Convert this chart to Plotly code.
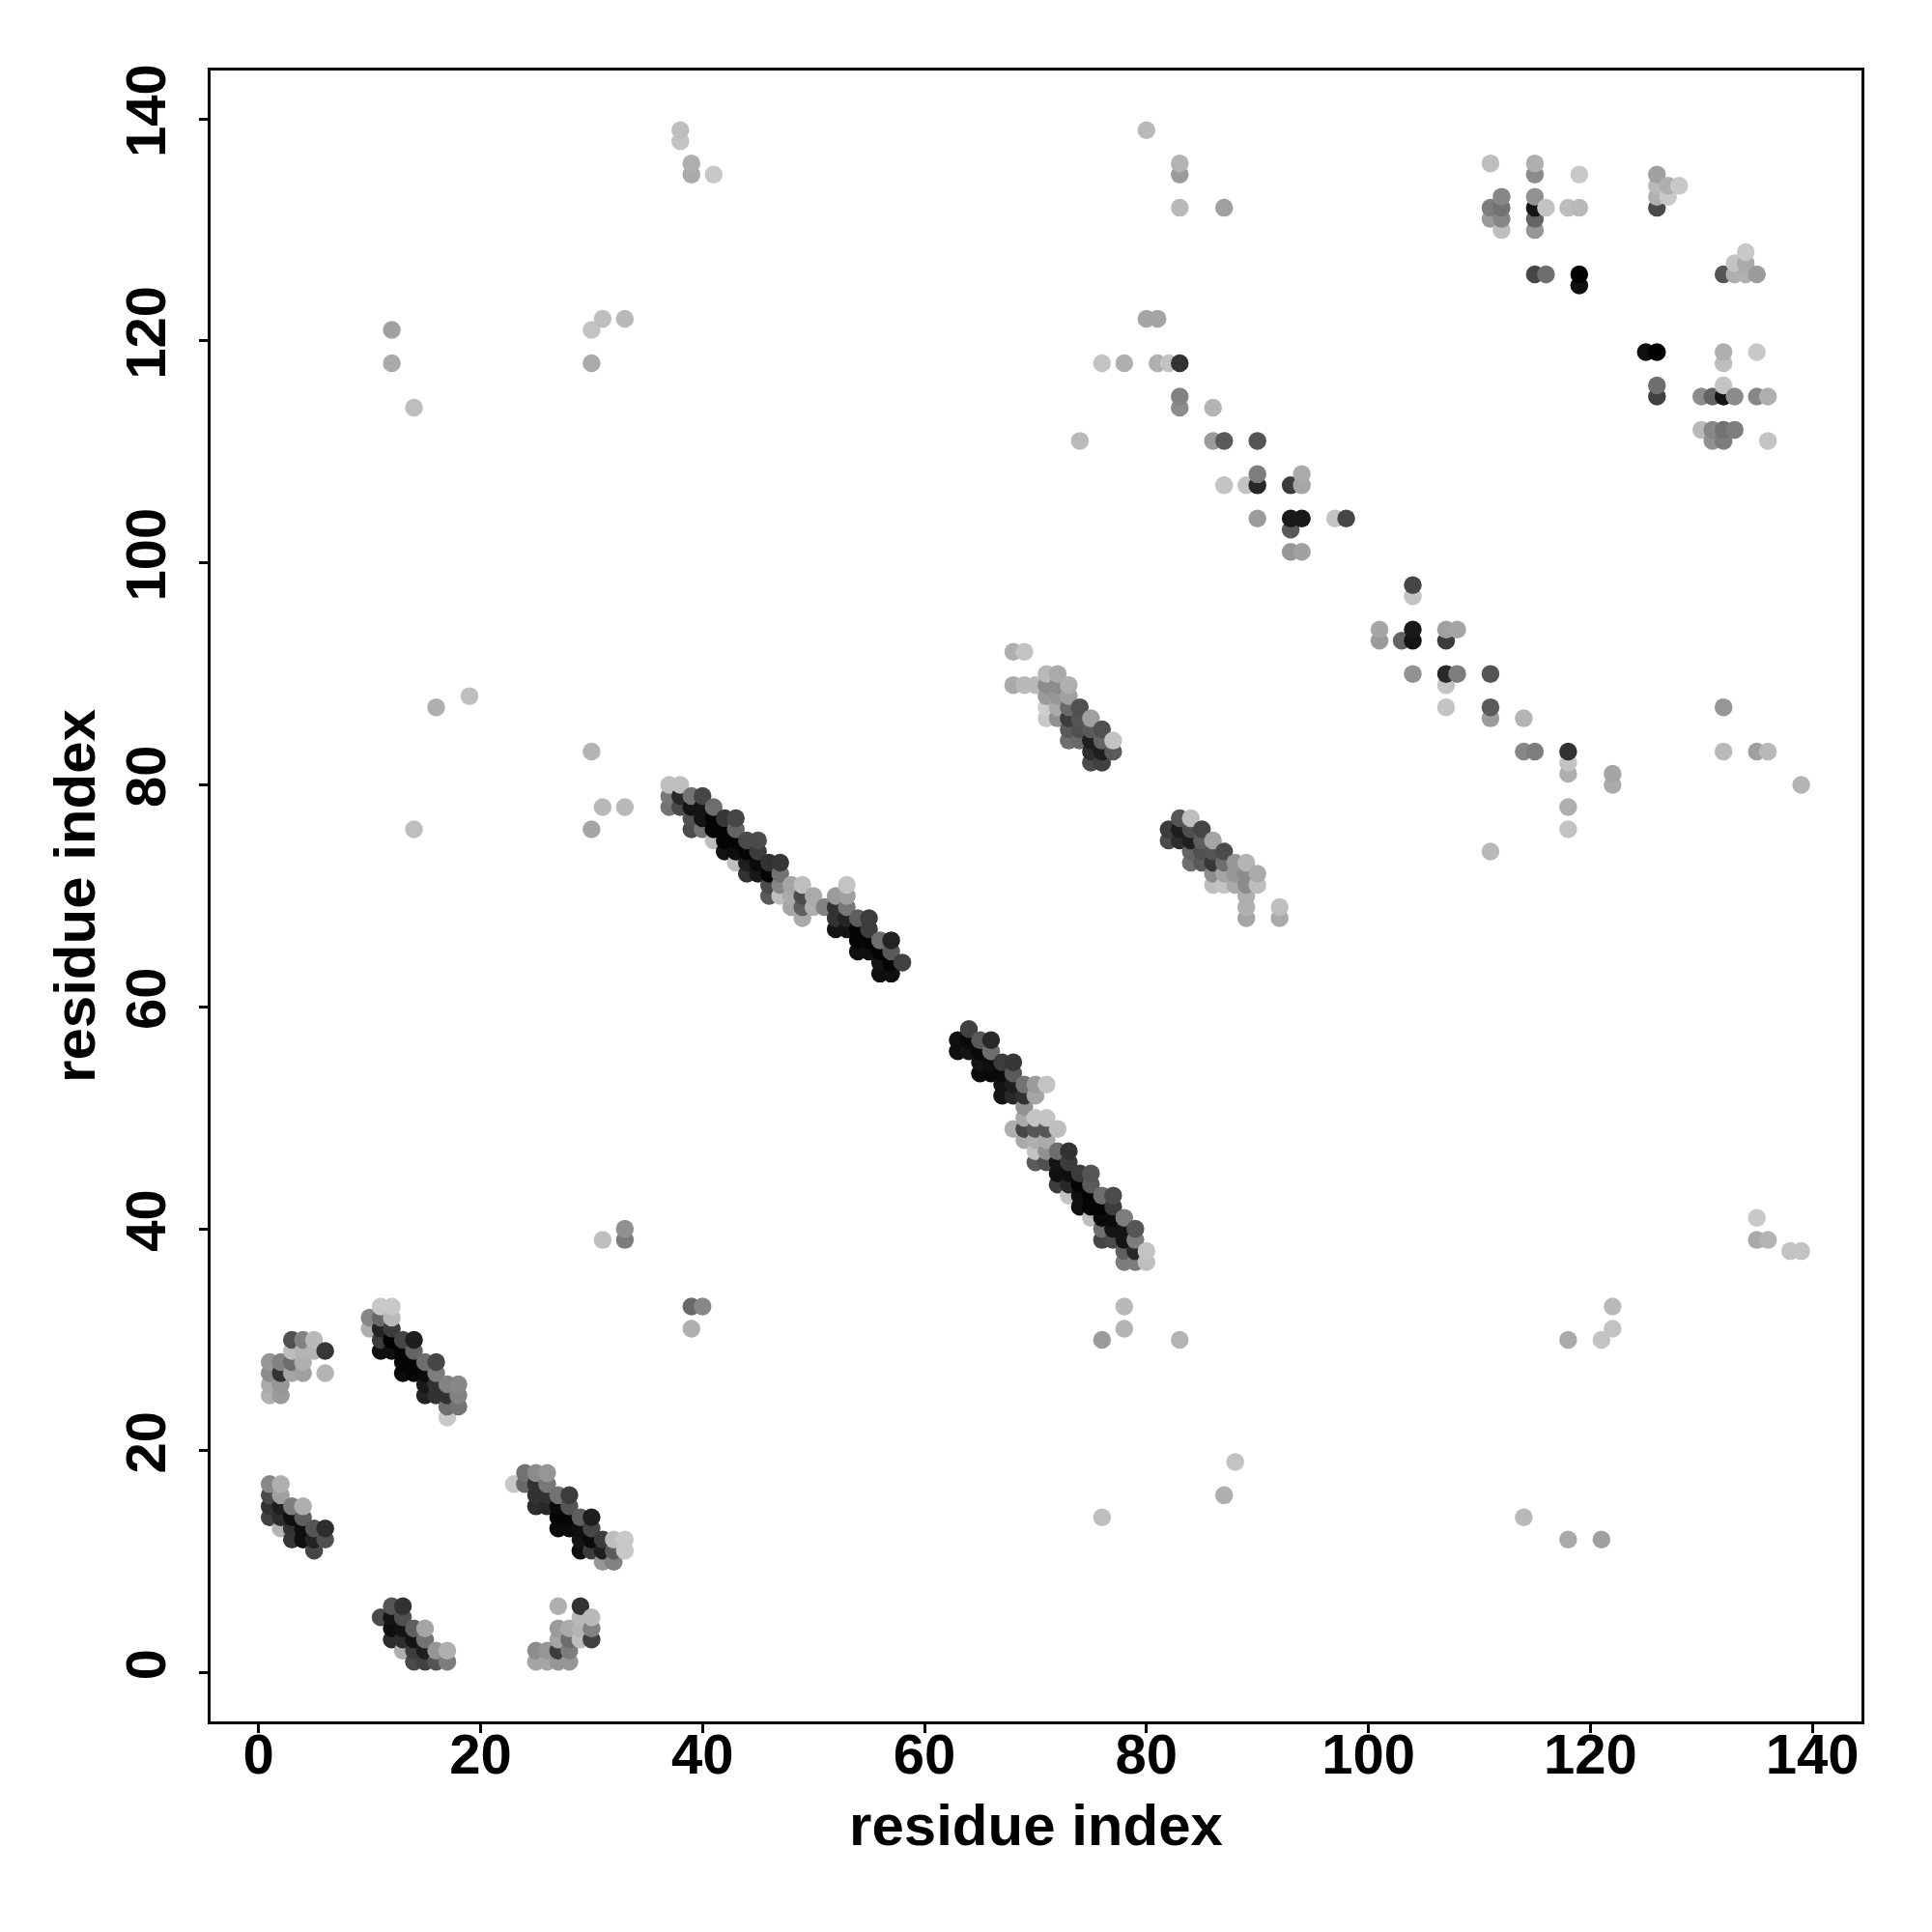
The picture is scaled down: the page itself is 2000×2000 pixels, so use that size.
import plotly.graph_objects as go

# each cluster: (residue i, residue j, grey level)
cluster_a = [(3,30,80),(4,30,130),(5,30,185),(3,29,190),(4,29,180),(5,29,180),(6,29,55),
             (1,28,150),(2,28,130),(3,28,110),(4,28,175),(1,27,140),(2,27,50),(3,27,165),(4,27,160),(6,27,180),
             (1,26,170),(2,26,150),(1,25,175),(2,25,155)]
cluster_b = [(11,33,200),(12,33,200),(10,32,135),(11,32,105),(12,32,185),(10,31,175),(11,31,35),(12,31,60),
             (11,30,60),(12,30,0),(13,30,70),(14,30,30),(11,29,15),(12,29,15),(13,29,5),(14,29,100),
             (13,28,5),(14,28,5),(15,28,110),(16,28,70),(13,27,10),(14,27,5),(15,27,10),(16,27,125),
             (15,26,25),(16,26,50),(17,26,130),(18,26,135),(15,25,35),(16,25,50),(17,25,50),(18,25,130),
             (17,24,110),(18,24,115),(17,23,200)]
cluster_c = [(1,17,135),(2,17,175),(1,16,75),(2,16,160),(1,15,50),(2,15,30),(3,15,125),(4,15,175),
             (1,14,65),(2,14,45),(3,14,15),(4,14,95),(2,13,180),(3,13,50),(4,13,15),(5,13,85),(6,13,45),
             (3,12,55),(4,12,15),(5,12,35),(6,12,80),(5,11,70)]
cluster_d = [(24,18,115),(25,18,140),(26,18,150),(23,17,200),(24,17,105),(25,17,50),(26,17,120),
             (25,16,50),(26,16,50),(27,16,115),(28,16,60),(25,15,45),(26,15,40),(27,15,10),(28,15,85),
             (27,14,5),(28,14,5),(29,14,95),(30,14,30),(27,13,10),(28,13,10),(29,13,15),(30,13,70),
             (29,12,20),(30,12,10),(31,12,60),(32,12,190),(33,12,200),(29,11,15),(30,11,60),(31,11,30),(32,11,90),(33,11,200),
             (31,10,150),(32,10,130)]
cluster_e = [(12,6,85),(13,6,50),(11,5,75),(12,5,20),(13,5,80),(12,4,15),(13,4,20),(14,4,95),(15,4,165),
             (12,3,45),(13,3,45),(14,3,20),(15,3,115),(13,2,175),(14,2,60),(15,2,30),(16,2,150),(17,2,175),
             (14,1,75),(15,1,65),(16,1,85),(17,1,125)]
cluster_f = [(27,6,175),(29,6,50),(29,5,185),(30,5,185),(27,4,155),(28,4,170),(29,4,180),(30,4,130),
             (27,3,165),(28,3,110),(29,3,190),(30,3,65),(25,2,140),(26,2,150),(27,2,60),(28,2,125),
             (25,1,165),(26,1,165),(27,1,150),(28,1,150)]
cluster_g = [(37,80,190),(38,80,190),(37,79,120),(38,79,40),(39,79,115),(40,79,70),(37,78,115),(38,78,75),(39,78,20),(40,78,20),(41,78,110),
             (39,77,80),(40,77,20),(41,77,5),(42,77,55),(43,77,70),(39,76,75),(40,76,115),(41,76,5),(42,76,5),(43,76,100),
             (41,75,190),(42,75,5),(43,75,5),(44,75,75),(45,75,75),(42,74,20),(43,74,15),(44,74,5),(45,74,60),
             (43,73,190),(44,73,30),(45,73,10),(46,73,50),(47,73,55),(44,72,50),(45,72,25),(46,72,5),(47,72,115),
             (46,71,75),(47,71,135),(48,71,165),(49,71,190),(46,70,90),(47,70,190),(48,70,170),(49,70,75),(50,70,170),
             (48,69,165),(49,69,95),(50,69,175),(51,69,130),(49,68,170)]
cluster_h = [(53,71,195),(52,70,155),(53,70,160),(52,69,50),(53,69,120),(52,68,50),(53,68,35),(54,68,95),(55,68,60),
             (52,67,20),(53,67,20),(54,67,5),(55,67,60),(54,66,5),(55,66,5),(56,66,110),(57,66,35),
             (54,65,15),(55,65,15),(56,65,5),(57,65,90),(56,64,20),(57,64,5),(58,64,65),(56,63,15),(57,63,15)]
cluster_i = [(64,58,65),(63,57,15),(64,57,10),(65,57,90),(66,57,40),(63,56,15),(64,56,20),(65,56,10),(66,56,110),
             (65,55,20),(66,55,15),(67,55,60),(68,55,55),(65,54,10),(66,54,10),(67,54,10),(68,54,90),
             (67,53,20),(68,53,30),(69,53,115),(70,53,155),(71,53,195),(67,52,20),(68,52,40),(69,52,50),(70,52,165),
             (69,51,145),(69,50,170),(70,50,195),(71,50,195),(68,49,175),(69,49,70),(70,49,85),(71,49,85),(72,49,190),
             (69,48,170),(70,48,175),(71,48,170),(70,47,195),(71,47,145),(72,47,110),(73,47,50),
             (70,46,90),(71,46,80),(72,46,20),(73,46,60),(72,45,15),(73,45,15),(74,45,60),(75,45,85),
             (72,44,60),(73,44,40),(74,44,5),(75,44,90),(73,43,195),(74,43,15),(75,43,5),(76,43,110),(77,43,75),
             (74,42,15),(75,42,5),(76,42,5),(77,42,60),(75,41,190),(76,41,10),(77,41,10),(78,41,125),
             (76,40,110),(77,40,20),(78,40,20),(79,40,85),(76,39,70),(77,39,75),(78,39,20),(79,39,125),
             (78,38,95),(79,38,40),(80,38,195),(78,37,125),(79,37,125),(80,37,190)]
cluster_j = [(68,92,175),(69,92,195),(71,90,185),(72,90,170),(68,89,170),(69,89,185),(70,89,185),(71,89,140),(72,89,140),(73,89,175),
             (71,88,155),(72,88,150),(73,88,160),(71,87,205),(72,87,170),(73,87,105),(74,87,80),
             (71,86,200),(72,86,145),(73,86,60),(74,86,85),(75,86,160),(73,85,90),(74,85,80),(75,85,90),(76,85,80),
             (73,84,110),(74,84,105),(75,84,30),(76,84,100),(77,84,195),(75,83,45),(76,83,30),(77,83,90),(75,82,75),(76,82,65)]
cluster_k = [(83,77,85),(84,77,190),(82,76,60),(83,76,30),(84,76,80),(85,76,70),(82,75,75),(83,75,45),(84,75,30),(85,75,95),(86,75,165),
             (84,74,100),(85,74,80),(86,74,85),(87,74,75),(84,73,110),(85,73,90),(86,73,55),(87,73,110),(88,73,150),(89,73,180),
             (86,72,140),(87,72,165),(88,72,150),(89,72,140),(90,72,170),(86,71,190),(87,71,195),(88,71,170),(89,71,140),(90,71,190),
             (89,70,175),(89,69,175),(92,69,190),(89,68,165),(92,68,170)]
cluster_top_right = [(111,136,190),(115,136,175),(115,135,140),(119,135,200),(112,133,135),(115,133,145),
             (111,132,125),(112,132,115),(115,132,20),(116,132,195),(118,132,190),(119,132,185),
             (111,131,155),(112,131,135),(115,131,100),(112,130,190),(115,130,150),
             (126,135,160),(126,134,185),(127,134,175),(128,134,200),(126,133,175),(127,133,200),(126,132,75),
             (115,126,70),(116,126,110),(119,126,0),(119,125,15),(132,126,85),(133,126,175),(134,126,175),(135,126,155),
             (133,127,195),(134,127,170),(134,128,200),(125,119,15),(126,119,0),(132,119,175),(135,119,200),(132,118,190),
             (126,116,110),(126,115,65),(130,115,140),(131,115,100),(132,115,20),(133,115,140),(135,115,135),(136,115,175),(132,116,195),
             (130,112,185),(131,112,135),(132,112,115),(133,112,125),(131,111,145),(132,111,125),(136,111,195)]
cluster_mid_upper = [(80,122,165),(81,122,165),(76,118,195),(78,118,175),(81,118,175),(82,118,195),(83,118,50),
             (83,115,130),(83,114,140),(86,114,180),(74,111,185),(86,111,155),(87,111,90),(90,111,85),
             (87,107,195),(89,107,195),(90,108,125),(90,107,40),(93,107,60),(94,108,170),(94,107,165),
             (90,104,155),(93,104,25),(94,104,25),(97,104,195),(98,104,70),(93,103,90),(93,101,150),(94,101,160)]
cluster_mid_lower = [(104,98,70),(104,97,195),(101,94,165),(101,93,155),(103,93,100),(104,94,25),(104,93,20),(107,94,160),(108,94,165),(107,93,60),
             (104,90,145),(107,90,40),(108,90,125),(111,90,85),(107,89,195),(107,87,195),(111,87,90),(111,86,155),(114,86,180),
             (114,83,135),(115,83,125),(118,83,50),(118,82,195),(118,81,175),(122,81,165),(122,80,170),(118,78,175),(118,76,195),(111,74,185)]
sparse = [(38,139,190),(38,138,195),(39,136,175),(39,135,170),(41,135,200),(80,139,185),(83,136,180),(83,135,155),(83,132,185),(87,132,160),
          (12,121,160),(12,118,170),(14,114,190),(30,121,195),(31,122,190),(33,122,185),(30,118,170),
          (16,87,175),(19,88,190),(30,83,180),(14,76,190),(30,76,165),(31,78,185),(33,78,185),
          (31,39,190),(33,40,145),(33,39,125),(39,33,105),(40,33,135),(39,31,175),
          (76,30,155),(78,33,185),(78,31,180),(83,30,180),(76,14,190),(87,16,175),(88,19,195),
          (114,14,185),(118,12,170),(121,12,160),(118,30,170),(121,30,195),(122,31,195),(122,33,185),
          (135,41,200),(135,39,170),(136,39,180),(138,38,195),(139,38,195),
          (132,87,150),(132,83,185),(135,83,160),(136,83,185),(139,80,180)]

tick_values = list(range(0, 141, 20))
axis_title = "residue index"

points = sorted(cluster_a + cluster_b + cluster_c + cluster_d + cluster_e + cluster_f + cluster_g +
                cluster_h + cluster_i + cluster_j + cluster_k + cluster_top_right +
                cluster_mid_upper + cluster_mid_lower + sparse, key=lambda p: (p[0], p[1]))

fig = go.Figure(go.Scatter(
    x=[p[0] for p in points], y=[p[1] for p in points], mode="markers",
    marker=dict(size=18.5, color=[f"rgb({p[2]},{p[2]},{p[2]})" for p in points], line=dict(width=0)),
    hoverinfo="skip", showlegend=False))

tick_font = dict(family="Liberation Sans", size=58, color="black", weight="bold")
title_font = dict(family="Liberation Sans", size=60, color="black", weight="bold")
common = dict(showgrid=False, zeroline=False, showline=True, linecolor="black", linewidth=3.4, mirror=True,
              ticks="outside", ticklen=9, tickwidth=3.4, tickcolor="black",
              tickvals=tick_values, ticktext=[str(v) for v in tick_values], tickfont=tick_font)
fig.update_xaxes(range=[-4.327, 144.43], ticklabelstandoff=-28,
                 title=dict(text=axis_title, font=title_font, standoff=22), **common)
fig.update_yaxes(range=[-4.38, 144.37], tickangle=-90, ticklabelstandoff=12,
                 title=dict(text=axis_title, font=title_font, standoff=0), **common)
# browser body margin of 8 px is accounted for in the width, height and margins
fig.update_layout(width=1984, height=1984, autosize=False, paper_bgcolor="white", plot_bgcolor="white",
                  margin=dict(l=210, r=65.4, t=65.4, b=210, autoexpand=False))
fig.write_html("out.html")
